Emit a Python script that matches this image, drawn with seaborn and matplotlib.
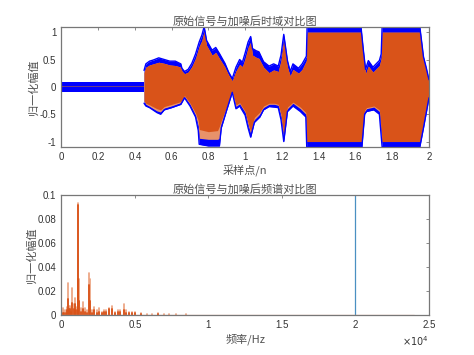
#!/usr/bin/env python3
# -*- coding: utf-8 -*-

import matplotlib
matplotlib.use('Agg')
import matplotlib.pyplot as plt
import numpy as np
import pandas as pd
import seaborn as sns

# time domain envelopes
t_quiet = [0, 0.45]
quiet_hi = [0.09, 0.09]
quiet_lo = [-0.09, -0.09]
quiet_core = [0.007, 0.007]

t_up = [0.45, 0.46, 0.48, 0.5, 0.53, 0.56, 0.59, 0.62, 0.65, 0.656, 0.67, 0.69, 0.71, 0.73, 0.75,
        0.765, 0.777, 0.79, 0.82, 0.84, 0.86, 0.89, 0.91, 0.93, 0.95, 0.97, 0.985, 1.0, 1.016, 1.03,
        1.04, 1.06, 1.075, 1.1, 1.13, 1.155, 1.18, 1.195, 1.21, 1.22, 1.23, 1.245, 1.26, 1.29, 1.31,
        1.333, 1.337, 1.63, 1.643, 1.655, 1.67, 1.695, 1.73, 1.74, 1.745, 1.95, 1.97, 1.985, 2.0]
noisy_up = [0.3, 0.42, 0.47, 0.49, 0.53, 0.5, 0.47, 0.47, 0.42, 0.34, 0.28, 0.32, 0.43, 0.6, 0.82,
            0.95, 1.1, 0.85, 0.67, 0.72, 0.61, 0.43, 0.27, 0.15, 0.36, 0.5, 0.45, 0.62, 0.82, 0.92,
            0.7, 0.66, 0.64, 0.46, 0.38, 0.42, 0.38, 0.58, 0.96, 0.72, 0.48, 0.28, 0.42, 0.34, 0.42,
            0.56, 1.1, 1.1, 0.67, 0.32, 0.48, 0.36, 0.48, 0.6, 1.1, 1.1, 0.55, 0.35, 0.13]
clean_up = [0.26, 0.36, 0.4, 0.42, 0.45, 0.43, 0.4, 0.39, 0.36, 0.29, 0.24, 0.27, 0.37, 0.52, 0.74,
            0.85, 1.02, 0.76, 0.58, 0.63, 0.52, 0.36, 0.22, 0.11, 0.29, 0.41, 0.37, 0.52, 0.72, 0.82,
            0.58, 0.54, 0.52, 0.36, 0.26, 0.31, 0.28, 0.48, 0.86, 0.62, 0.37, 0.2, 0.32, 0.25, 0.32,
            0.48, 1.0, 1.0, 0.6, 0.24, 0.38, 0.27, 0.39, 0.52, 1.0, 1.0, 0.48, 0.3, 0.1]

t_lo = [0.45, 0.46, 0.48, 0.52, 0.54, 0.56, 0.6, 0.65, 0.67, 0.7, 0.73, 0.745, 0.75, 0.8, 0.85, 0.86,
        0.87, 0.9, 0.93, 0.95, 0.97, 1.0, 1.016, 1.03, 1.05, 1.08, 1.1, 1.13, 1.16, 1.18, 1.195, 1.21,
        1.23, 1.26, 1.3, 1.33, 1.335, 1.635, 1.65, 1.66, 1.7, 1.73, 1.745, 1.95, 1.97, 2.0]
noisy_lo = [-0.3, -0.35, -0.38, -0.47, -0.5, -0.42, -0.38, -0.32, -0.2, -0.35, -0.55, -0.8, -1.05, -1.08,
            -1.08, -1.08, -0.75, -0.42, -0.1, -0.4, -0.35, -0.52, -0.75, -0.92, -0.65, -0.55, -0.42,
            -0.36, -0.37, -0.38, -0.6, -1.0, -0.45, -0.35, -0.45, -0.55, -1.1, -1.1, -0.5, -0.45, -0.42,
            -0.5, -1.1, -1.1, -0.75, -0.2]
clean_lo = [-0.26, -0.3, -0.33, -0.4, -0.42, -0.36, -0.32, -0.27, -0.16, -0.3, -0.48, -0.62, -0.78, -0.82,
            -0.8, -0.72, -0.62, -0.36, -0.08, -0.33, -0.29, -0.45, -0.66, -0.82, -0.56, -0.46, -0.35,
            -0.3, -0.3, -0.32, -0.5, -0.88, -0.37, -0.28, -0.37, -0.47, -1.0, -1.0, -0.43, -0.38, -0.35,
            -0.42, -1.0, -1.0, -0.65, -0.16]
noise_tint_lo = [-0.26, -0.32, -0.36, -0.44, -0.46, -0.39, -0.35, -0.29, -0.18, -0.32, -0.52, -0.72, -0.94,
                 -0.96, -0.96, -0.94, -0.68, -0.38, -0.09, -0.36, -0.31, -0.47, -0.7, -0.86, -0.6, -0.5,
                 -0.38, -0.32, -0.32, -0.34, -0.54, -0.93, -0.4, -0.3, -0.4, -0.5, -1.0, -1.0, -0.46,
                 -0.4, -0.37, -0.45, -1.0, -1.0, -0.68, -0.18]

# spectrum peaks
peak_freq = [110, 200, 300, 400, 475, 540, 610, 680, 750, 850, 950, 1030, 1110, 1160, 1220, 1350, 1490, 1620,
             1750, 1855, 1970, 2100, 2220, 2400, 2560, 2750, 2900, 3050, 3235, 3480, 3680, 3860, 4020, 4250,
             4430, 4620, 4800, 5000, 5400, 5800, 6180, 6560, 6950, 7330, 7800, 8500, 9200, 10000]
peak_noisy = [0.006, 0.004, 0.004, 0.007, 0.0265, 0.008, 0.008, 0.006, 0.0225, 0.009, 0.014, 0.007, 0.0935,
              0.05, 0.03, 0.006, 0.011, 0.006, 0.004, 0.035, 0.03, 0.004, 0.007, 0.004, 0.006, 0.003, 0.004,
              0.004, 0.006, 0.008, 0.003, 0.004, 0.004, 0.009, 0.004, 0.003, 0.003, 0.003, 0.002, 0.001,
              0.001, 0.002, 0.001, 0.001, 0.001, 0.0008, 0.0006, 0.0005]
peak_clean = [0.002, 0.002, 0.002, 0.004, 0.0135, 0.005, 0.005, 0.003, 0.01, 0.005, 0.009, 0.004, 0.092,
              0.03, 0.012, 0.003, 0.005, 0.003, 0.002, 0.025, 0.012, 0.002, 0.004, 0.002, 0.003, 0.002, 0.003,
              0.003, 0.005, 0.005, 0.002, 0.003, 0.003, 0.004, 0.002, 0.002, 0.002, 0.002, 0.001, 0.0006,
              0.0006, 0.001, 0.0005, 0.0005, 0.0005, 0.0004, 0.0003, 0.0003]
tone_freq = [20000, 20000]
tone_amp = [0, 0.1]
floor_freq = [0, 24000]
floor_amp = [0.0004, 0.0004]

title_top = '原始信号与加噪后时域对比图'
title_bottom = '原始信号与加噪后频谱对比图'
xlabel_top = '采样点/n'
xlabel_bottom = '频率/Hz'
ylabel = '归一化幅值'
top_ticks_x = [0, 0.2, 0.4, 0.6, 0.8, 1, 1.2, 1.4, 1.6, 1.8, 2]
top_labels_x = ['0', '0.2', '0.4', '0.6', '0.8', '1', '1.2', '1.4', '1.6', '1.8', '2']
top_ticks_y = [-1, -0.5, 0, 0.5, 1]
top_labels_y = ['-1', '-0.5', '0', '0.5', '1']
bottom_ticks_x = [0, 5000, 10000, 15000, 20000, 25000]
bottom_labels_x = ['0', '0.5', '1', '1.5', '2', '2.5']
bottom_ticks_y = [0, 0.02, 0.04, 0.06, 0.08, 0.1]
bottom_labels_y = ['0', '0.02', '0.04', '0.06', '0.08', '0.1']

BLUE = '#0000ff'
ORANGE = '#d95319'
GRAY = '#777777'
CJK = ['Noto Sans CJK SC', 'DejaVu Sans']

sns.set_theme(style='white')
plt.rcParams['font.family'] = ['Liberation Sans', 'DejaVu Sans']
plt.rcParams['axes.edgecolor'] = GRAY
plt.rcParams['axes.linewidth'] = 0.9
plt.rcParams['xtick.color'] = '#333333'
plt.rcParams['ytick.color'] = '#333333'


def style_axes(ax, title, xlabel, xticks, xlabels, yticks, ylabels):
    ax.set_xticks(xticks)
    ax.set_xticklabels(xlabels)
    ax.set_yticks(yticks)
    ax.set_yticklabels(ylabels)
    ax.tick_params(direction='in', top=True, right=True, length=2.5, width=0.6,
                   color=GRAY, labelsize=7, pad=3.5)
    ax.set_title(title, fontsize=8, color='#505050', family=CJK, pad=1.5)
    ax.set_xlabel(xlabel, fontsize=8, color='#505050', family=CJK, labelpad=2.5)
    ax.set_ylabel(ylabel, fontsize=8, color='#505050', family=CJK, labelpad=0.5)


fig = plt.figure(figsize=(4.74, 3.55), dpi=100)
ax1 = fig.add_axes([61.3 / 474, 1 - 147 / 355, 367.7 / 474, 120.3 / 355])
ax2 = fig.add_axes([61.3 / 474, 1 - 315.3 / 355, 367.7 / 474, 120.3 / 355])

# time domain
ax1.fill_between(t_quiet, quiet_lo, quiet_hi, color=BLUE, lw=0)
ax1.fill_between(t_quiet, np.negative(quiet_core), quiet_core, color='#6a3a8a', lw=0)

t_all = sorted(set(t_up + t_lo))
ax1.fill_between(t_all, np.interp(t_all, t_lo, noisy_lo), np.interp(t_all, t_up, noisy_up),
                 color=BLUE, lw=0)
sns.lineplot(x=t_up, y=noisy_up, color=BLUE, lw=1.0, ax=ax1, estimator=None, sort=False)
sns.lineplot(x=t_lo, y=noisy_lo, color=BLUE, lw=1.0, ax=ax1, estimator=None, sort=False)
ax1.fill_between(t_all, np.interp(t_all, t_lo, noise_tint_lo), np.interp(t_all, t_up, clean_up),
                 color='#e8926a', lw=0)
ax1.fill_between(t_all, np.interp(t_all, t_lo, clean_lo), np.interp(t_all, t_up, clean_up),
                 color=ORANGE, lw=0)
ax1.set_xlim(0, 2)
ax1.set_ylim(-1.1, 1.1)
style_axes(ax1, title_top, xlabel_top, top_ticks_x, top_labels_x, top_ticks_y, top_labels_y)

# spectrum, one stem per peak
n_peaks = len(peak_freq)
stems = pd.DataFrame({
    'freq': np.repeat(peak_freq, 2),
    'noisy': np.column_stack([np.zeros(n_peaks), peak_noisy]).ravel(),
    'clean': np.column_stack([np.zeros(n_peaks), peak_clean]).ravel(),
    'unit': np.repeat(np.arange(n_peaks), 2),
})
sns.lineplot(x=tone_freq, y=tone_amp, color='#4a90c2', lw=0.9, ax=ax2, estimator=None)
sns.lineplot(data=stems, x='freq', y='noisy', units='unit', estimator=None, sort=False,
             color='#eb9f7c', lw=1.2, ax=ax2)
sns.lineplot(data=stems, x='freq', y='clean', units='unit', estimator=None, sort=False,
             color=ORANGE, lw=1.3, ax=ax2)
sns.lineplot(x=floor_freq, y=floor_amp, color='#e09a78', lw=0.9, ax=ax2, estimator=None)
ax2.set_xlim(0, 25000)
ax2.set_ylim(0, 0.1)
style_axes(ax2, title_bottom, xlabel_bottom, bottom_ticks_x, bottom_labels_x, bottom_ticks_y, bottom_labels_y)
ax2.text(1, -0.215, r'$\times 10^{4}$', transform=ax2.transAxes, ha='right', va='center',
         fontsize=7, color='#333333', math_fontfamily='dejavusans')

fig.savefig('out.png', dpi=100)
